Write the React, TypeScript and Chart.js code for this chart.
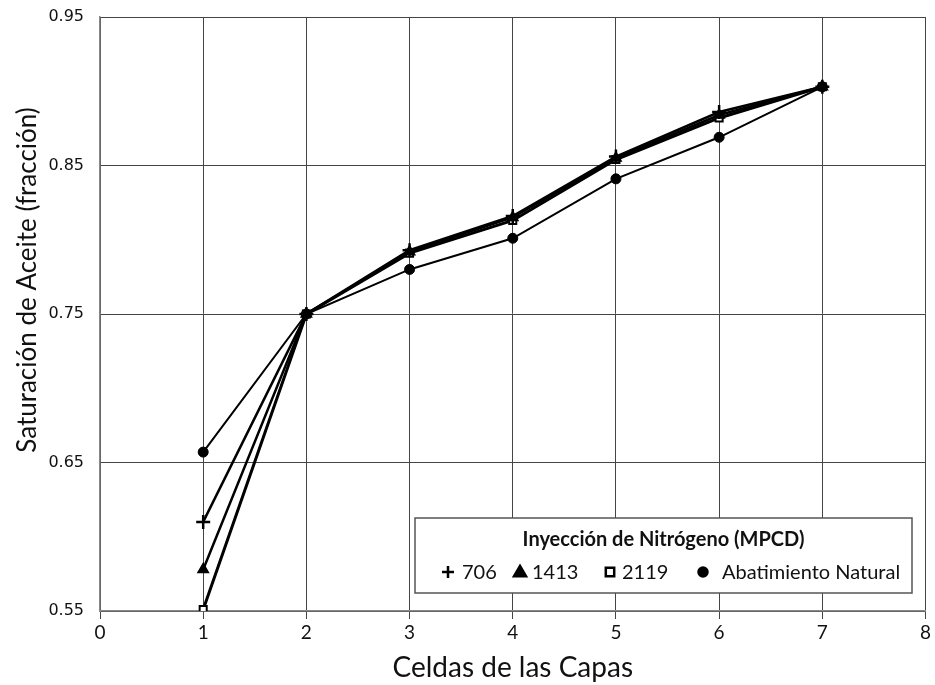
import React, { useEffect, useRef } from "react";
import { Chart, registerables } from "chart.js";

Chart.register(...registerables);

const cells = [1, 2, 3, 4, 5, 6, 7];
const series706 = [0.61, 0.75, 0.793, 0.816, 0.856, 0.886, 0.903];
const series1413 = [0.578, 0.75, 0.792, 0.815, 0.855, 0.884, 0.903];
const series2119 = [0.551, 0.75, 0.791, 0.813, 0.854, 0.882, 0.903];
const seriesNatural = [0.657, 0.75, 0.78, 0.801, 0.841, 0.869, 0.903];
const yTicks = [0.55, 0.65, 0.75, 0.85, 0.95];
const xTitle = "Celdas de las Capas";
const yTitle = "Saturación de Aceite (fracción)";
const legendTitle = "Inyección de Nitrógeno (MPCD)";
const labels = ["706", "1413", "2119", "Abatimiento Natural"];

const toPoints = (arr: number[]) => arr.map((y, i) => ({ x: cells[i], y }));

function drawMarker(ctx: CanvasRenderingContext2D, style: string, x: number, y: number, r: number, fill: string) {
  ctx.save();
  ctx.strokeStyle = "#000";
  ctx.fillStyle = fill;
  ctx.lineWidth = 2.5;
  ctx.beginPath();
  if (style === "cross") {
    ctx.moveTo(x - r, y);
    ctx.lineTo(x + r, y);
    ctx.moveTo(x, y - r);
    ctx.lineTo(x, y + r);
    ctx.stroke();
  } else if (style === "triangle") {
    ctx.moveTo(x, y - r);
    ctx.lineTo(x + r, y + r * 0.7);
    ctx.lineTo(x - r, y + r * 0.7);
    ctx.closePath();
    ctx.fill();
    ctx.stroke();
  } else if (style === "rect") {
    ctx.rect(x - r * 0.7, y - r * 0.7, r * 1.4, r * 1.4);
    ctx.fill();
    ctx.stroke();
  } else {
    ctx.arc(x, y, r * 0.75, 0, Math.PI * 2);
    ctx.fill();
    ctx.stroke();
  }
  ctx.restore();
}

const customPlugin = {
  id: "customDecor",
  afterDraw(chart: any) {
    const ctx: CanvasRenderingContext2D = chart.ctx;
    // Y axis title
    ctx.save();
    ctx.translate(36, 280);
    ctx.rotate(-Math.PI / 2);
    ctx.font = "26px Lato";
    ctx.fillStyle = "#111";
    ctx.textAlign = "center";
    ctx.textBaseline = "alphabetic";
    ctx.fillText(yTitle, 0, 0);
    ctx.restore();

    // Legend box
    const bx = 415, by = 518, bw = 497, bh = 75;
    ctx.save();
    ctx.fillStyle = "#fff";
    ctx.fillRect(bx, by, bw, bh);
    ctx.strokeStyle = "#555";
    ctx.lineWidth = 1.5;
    ctx.strokeRect(bx, by, bw, bh);
    ctx.fillStyle = "#111";
    ctx.font = "bold 20px Lato";
    ctx.textAlign = "center";
    ctx.textBaseline = "middle";
    ctx.fillText(legendTitle, bx + bw / 2, by + 22);
    ctx.font = "20px Lato";
    ctx.textAlign = "left";
    const rowY = by + 54;
    const items = [
      { m: 448, t: 462, style: "cross", fill: "#000" },
      { m: 520, t: 532, style: "triangle", fill: "#000" },
      { m: 610, t: 622, style: "rect", fill: "#fff" },
      { m: 703, t: 722, style: "circle", fill: "#000" },
    ];
    items.forEach((it, i) => {
      drawMarker(ctx, it.style, it.m, rowY, 6, it.fill);
      ctx.fillStyle = "#111";
      ctx.fillText(labels[i], it.t, rowY + 1);
    });
    ctx.restore();
  },
};

export default function App() {
  const ref = useRef<HTMLCanvasElement | null>(null);
  useEffect(() => {
    if (!ref.current) return;
    const common = { borderColor: "#000", showLine: true, fill: false, tension: 0 };
    const chart = new Chart(ref.current, {
      type: "scatter",
      data: {
        datasets: [
          { ...common, label: labels[0], data: toPoints(series706), borderWidth: 2.5, pointStyle: "cross", pointRadius: 7, pointBorderWidth: 2.5, pointBorderColor: "#000", pointBackgroundColor: "#000" },
          { ...common, label: labels[1], data: toPoints(series1413), borderWidth: 2.5, pointStyle: "triangle", pointRadius: 6, pointBorderWidth: 1.5, pointBorderColor: "#000", pointBackgroundColor: "#000" },
          { ...common, label: labels[2], data: toPoints(series2119), borderWidth: 3, pointStyle: "rect", pointRadius: 5, pointBorderWidth: 2, pointBorderColor: "#000", pointBackgroundColor: "#fff" },
          { ...common, label: labels[3], data: toPoints(seriesNatural), borderWidth: 2, pointStyle: "circle", pointRadius: 5, pointBorderWidth: 1, pointBorderColor: "#000", pointBackgroundColor: "#000" },
        ],
      } as any,
      options: {
        animation: false,
        responsive: false,
        layout: { padding: { top: 17, right: 8, left: 0, bottom: 0 } },
        plugins: { legend: { display: false }, tooltip: { enabled: false } },
        scales: {
          x: {
            type: "linear",
            min: 0,
            max: 8,
            afterFit: (s: any) => { s.height = 74; s.paddingLeft = 0; s.paddingRight = 0; },
            ticks: { stepSize: 1, color: "#111", font: { family: "Lato", size: 19 }, padding: 2 },
            grid: { color: "#444", lineWidth: 1, tickLength: 8, tickColor: "#444" },
            border: { color: "#888", width: 1.5 },
            title: { display: true, text: xTitle, color: "#111", font: { family: "Lato", size: 28 }, padding: { top: 2, bottom: 0 } },
          },
          y: {
            type: "linear",
            min: 0.55,
            max: 0.95,
            afterFit: (s: any) => { s.width = 100; s.paddingTop = 0; s.paddingBottom = 0; },
            afterBuildTicks: (s: any) => { s.ticks = yTicks.map((v) => ({ value: v })); },
            ticks: { color: "#111", font: { family: "DejaVu Sans", size: 16 }, padding: 16, callback: (v: any) => Number(v).toFixed(2) },
            grid: { color: "#444", lineWidth: 1, tickLength: 0 },
            border: { color: "#888", width: 1.5 },
          },
        },
      } as any,
      plugins: [customPlugin],
    });
    return () => chart.destroy();
  }, []);
  return (
    <div style={{ position: "fixed", left: 0, top: 0, width: 935, height: 685, background: "#fff" }}>
      <canvas ref={ref} width={935} height={685} />
    </div>
  );
}
